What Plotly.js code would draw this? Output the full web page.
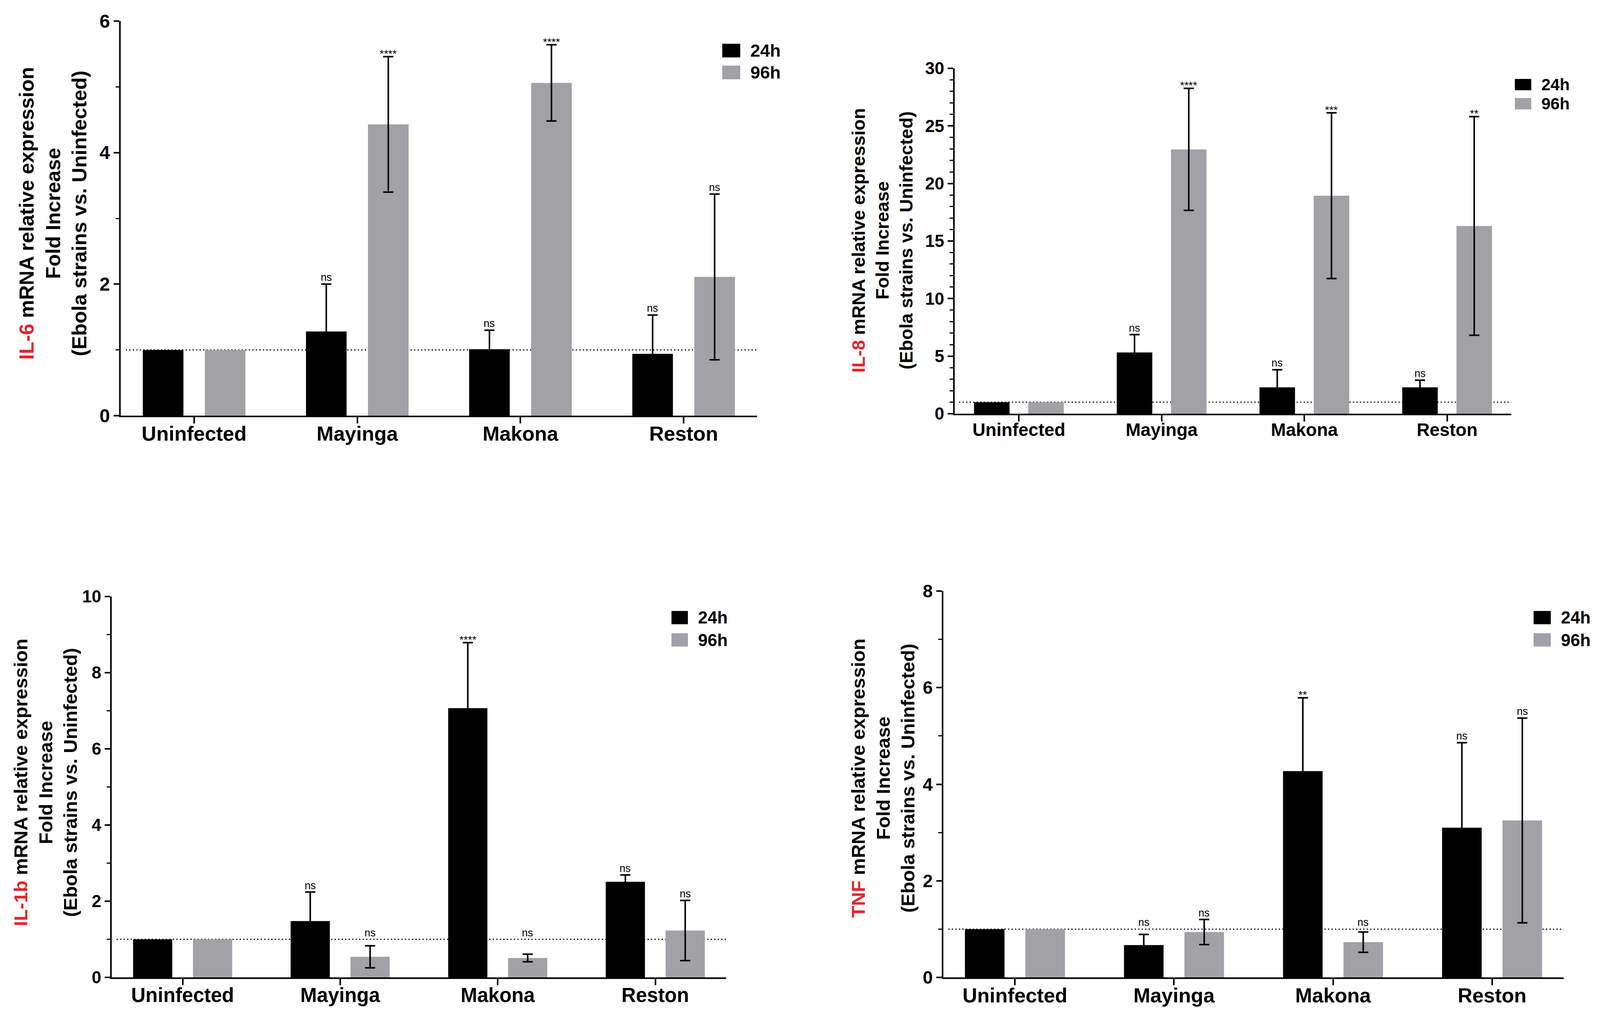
<!DOCTYPE html>
<html>
<head>
<meta charset="utf-8">
<script src="https://cdn.plot.ly/plotly-3.0.1.min.js"></script>
<style>
  html, body { margin: 0; padding: 0; background: #fff; }
  #chart { width: 4099px; height: 2588px; }
</style>
</head>
<body>
<div id="chart"></div>
<script>
// categories and legend
const strains = ['Uninfected', 'Mayinga', 'Makona', 'Reston'];
const timepoints = ['24h', '96h'];
const barColors = ['#000000', '#a2a1a6'];

// IL-6 (uninfected has no error bar -> NaN)
const il6Mean24 = [1.0, 1.28, 1.01, 0.94];
const il6Err24 = [NaN, 0.72, 0.29, 0.59];
const il6Mean96 = [1.0, 4.43, 5.06, 2.11];
const il6Err96 = [NaN, 1.03, 0.58, 1.26];
const il6Sig24 = ['', 'ns', 'ns', 'ns'];
const il6Sig96 = ['', '****', '****', 'ns'];

// IL-8
const il8Mean24 = [1.0, 5.32, 2.29, 2.29];
const il8Err24 = [NaN, 1.55, 1.53, 0.62];
const il8Mean96 = [1.0, 22.96, 18.94, 16.31];
const il8Err96 = [NaN, 5.3, 7.2, 9.5];
const il8Sig24 = ['', 'ns', 'ns', 'ns'];
const il8Sig96 = ['', '****', '***', '**'];

// IL-1b
const il1bMean24 = [1.0, 1.48, 7.07, 2.51];
const il1bErr24 = [NaN, 0.76, 1.72, 0.18];
const il1bMean96 = [1.0, 0.54, 0.51, 1.23];
const il1bErr96 = [NaN, 0.29, 0.10, 0.79];
const il1bSig24 = ['', 'ns', '****', 'ns'];
const il1bSig96 = ['', 'ns', 'ns', 'ns'];

// TNF
const tnfMean24 = [1.0, 0.67, 4.27, 3.10];
const tnfErr24 = [NaN, 0.22, 1.52, 1.76];
const tnfMean96 = [1.0, 0.94, 0.73, 3.25];
const tnfErr96 = [NaN, 0.26, 0.21, 2.12];
const tnfSig24 = ['', 'ns', '**', 'ns'];
const tnfSig96 = ['', 'ns', 'ns', 'ns'];

const baseline = 1;

const W = 4099, H = 2588;
const px = x => x / W;
const py = y => 1 - y / H;
const FONT = 'Liberation Sans, Arial, Helvetica, sans-serif';

// dom: [left, right, top, bottom] in pixels
const panels = [
  { gene: 'IL-6', m24: il6Mean24, e24: il6Err24, m96: il6Mean96, e96: il6Err96, s24: il6Sig24, s96: il6Sig96,
    yMax: 6, dtick: 2, dom: [309, 1938, 54, 1064], tickSize: 48, catSize: 52,
    titleSize: 52, titlePos: [135, 547], leg: [1849, 112, 46, 35, 56], legSize: 45 },
  { gene: 'IL-8', m24: il8Mean24, e24: il8Err24, m96: il8Mean96, e96: il8Err96, s24: il8Sig24, s96: il8Sig96,
    yMax: 30, dtick: 5, dom: [2444, 3869, 175, 1059], tickSize: 44, catSize: 46,
    titleSize: 47, titlePos: [2258, 616], leg: [3878, 202, 42, 29, 49], legSize: 42 },
  { gene: 'IL-1b', m24: il1bMean24, e24: il1bErr24, m96: il1bMean96, e96: il1bErr96, s24: il1bSig24, s96: il1bSig96,
    yMax: 10, dtick: 2, dom: [286, 1859, 1527, 2502], tickSize: 44, catSize: 51,
    titleSize: 49, titlePos: [116, 2003], leg: [1719, 1564, 42, 34, 57], legSize: 44 },
  { gene: 'TNF', m24: tnfMean24, e24: tnfErr24, m96: tnfMean96, e96: tnfErr96, s24: tnfSig24, s96: tnfSig96,
    yMax: 8, dtick: 2, dom: [2415, 4003, 1513, 2502], tickSize: 46, catSize: 52,
    titleSize: 49, titlePos: [2260, 1992], leg: [3926, 1564, 44, 34, 57], legSize: 44 }
];

const bargap = 0.24, bargroupgap = 0.345;
const slot = (1 - bargap) / 2;

const traces = [];
const annotations = [];
const shapes = [];
const layout = {
  width: W, height: H,
  margin: { l: 0, r: 0, t: 0, b: 0 },
  paper_bgcolor: '#ffffff', plot_bgcolor: '#ffffff',
  showlegend: false,
  barmode: 'group', bargap: bargap, bargroupgap: bargroupgap,
  font: { family: FONT, color: '#000' }
};

panels.forEach((p, i) => {
  const n = i + 1;
  const xa = 'x' + (n > 1 ? n : ''), ya = 'y' + (n > 1 ? n : '');
  const series = [[p.m24, p.e24, p.s24], [p.m96, p.e96, p.s96]];

  series.forEach(([m, e, s], k) => {
    traces.push({
      type: 'bar', x: strains, y: m, name: timepoints[k],
      xaxis: xa, yaxis: ya,
      marker: { color: barColors[k], line: { width: 0 } },
      error_y: { type: 'data', array: e, visible: true, color: '#000', thickness: 4, width: 13 }
    });
    // significance labels
    s.forEach((lab, j) => {
      if (!lab) return;
      const top = m[j] + (isNaN(e[j]) ? 0 : e[j]);
      const stars = lab.indexOf('*') >= 0;
      annotations.push({
        xref: xa, yref: ya, x: j + (k === 0 ? -slot / 2 : slot / 2),
        y: Math.max(top, baseline), yanchor: 'bottom', xanchor: 'center',
        yshift: stars ? -10 : 0,
        text: lab, showarrow: false,
        font: { family: FONT, size: stars ? 28 : 27, color: '#000' }
      });
    });
  });

  const [l, r, t, b] = p.dom;
  layout['xaxis' + (n > 1 ? n : '')] = {
    domain: [px(l), px(r)], anchor: ya, type: 'category',
    range: [-0.45, 3.45], fixedrange: true,
    showline: true, linecolor: '#000', linewidth: 4,
    ticks: 'outside', ticklen: 16, tickwidth: 4, tickcolor: '#000',
    ticklabelstandoff: -18,
    showgrid: false, zeroline: false,
    tickfont: { family: FONT, size: p.catSize, color: '#000', weight: 700 }
  };
  layout['yaxis' + (n > 1 ? n : '')] = {
    domain: [py(b), py(t)], anchor: xa,
    range: [0, p.yMax], fixedrange: true,
    dtick: p.dtick, tick0: 0,
    showline: true, linecolor: '#000', linewidth: 4,
    ticks: 'outside', ticklen: 14, tickwidth: 4, tickcolor: '#000',
    minor: { dtick: 1, ticks: 'outside', ticklen: 9, tickwidth: 3, tickcolor: '#000', showgrid: false },
    showgrid: false, zeroline: false,
    tickfont: { family: FONT, size: p.tickSize, color: '#000', weight: 700 }
  };

  // dotted reference line at fold change = 1
  shapes.push({
    type: 'line', xref: xa + ' domain', yref: ya,
    x0: 0.008, x1: 1, y0: baseline, y1: baseline, layer: 'below',
    line: { color: '#000', width: 3, dash: '3px,6px' }
  });

  // y title
  annotations.push({
    xref: 'paper', yref: 'paper', x: px(p.titlePos[0]), y: py(p.titlePos[1]),
    xanchor: 'center', yanchor: 'middle', textangle: -90, align: 'center',
    showarrow: false,
    text: '<span style="color:#e3262b">' + p.gene + '</span> mRNA relative expression<br>Fold Increase<br>(Ebola strains vs. Uninfected)',
    font: { family: FONT, size: p.titleSize, color: '#000', weight: 700 }
  });

  // legend
  const [lx, ly, sw, sh, step] = p.leg;
  timepoints.forEach((tp, k) => {
    const top = ly + k * step;
    shapes.push({
      type: 'rect', xref: 'paper', yref: 'paper',
      x0: px(lx), x1: px(lx + sw), y0: py(top), y1: py(top + sh),
      fillcolor: barColors[k], line: { width: 0 }
    });
    annotations.push({
      xref: 'paper', yref: 'paper', x: px(lx + sw + 24), y: py(top + sh / 2),
      xanchor: 'left', yanchor: 'middle', showarrow: false, text: tp,
      font: { family: FONT, size: p.legSize, color: '#000', weight: 700 }
    });
  });
});

layout.annotations = annotations;
layout.shapes = shapes;

Plotly.newPlot('chart', traces, layout, { staticPlot: true, displayModeBar: false });
</script>
</body>
</html>
